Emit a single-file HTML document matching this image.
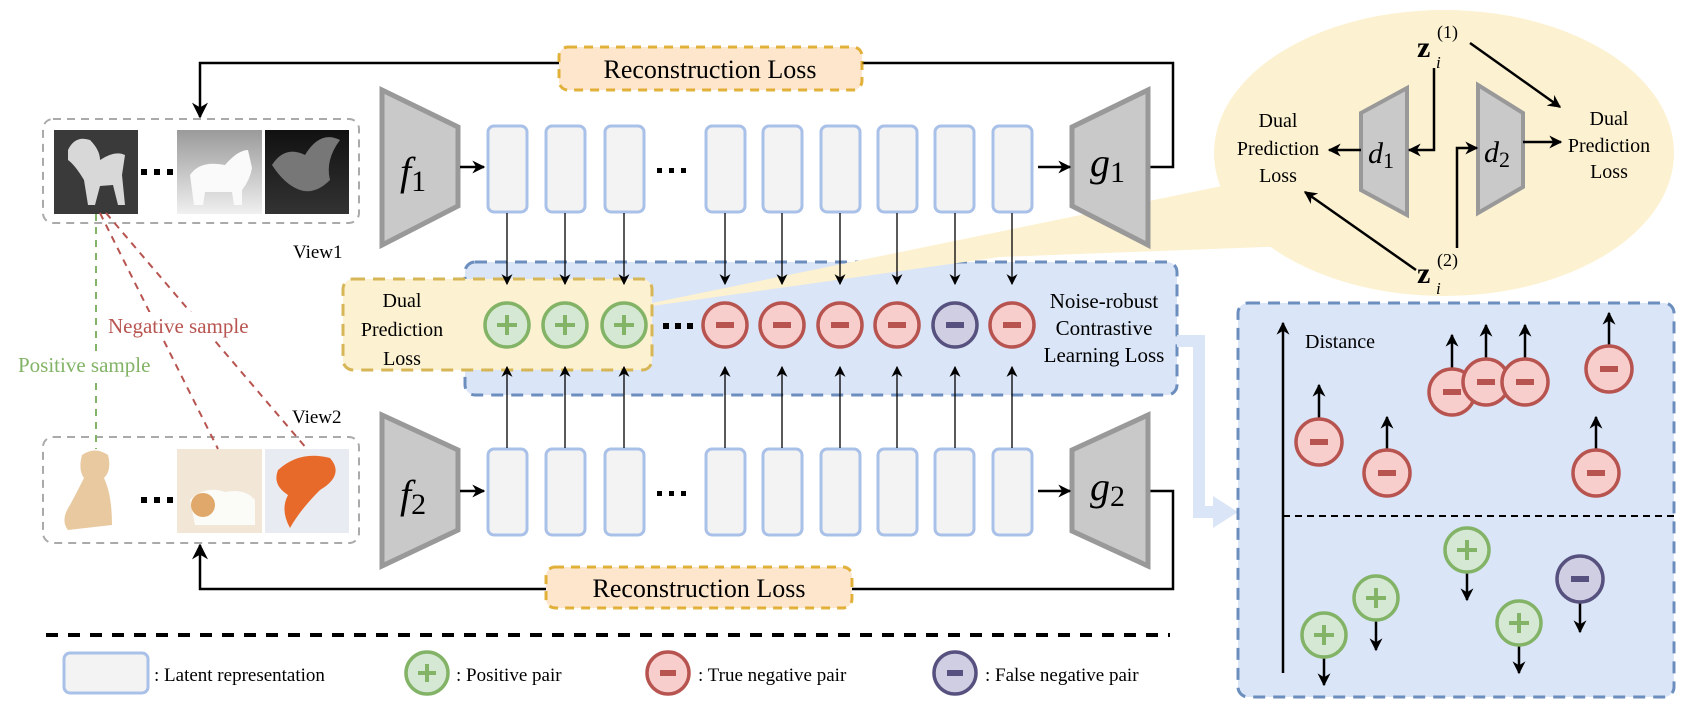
<!DOCTYPE html>
<html><head><meta charset="utf-8"><style>
html,body{margin:0;padding:0;background:#fff;}
svg{display:block;}
text{font-family:"Liberation Serif",serif;fill:#000;}
</style></head><body>
<svg width="1695" height="715" viewBox="0 0 1695 715" xmlns="http://www.w3.org/2000/svg">
<defs>
<marker id="ah" viewBox="0 0 10 10" refX="9" refY="5" markerUnits="userSpaceOnUse" markerWidth="13" markerHeight="13" orient="auto"><path d="M0,0 L10,5 L0,10 L3,5 z" fill="#000"/></marker>
<marker id="as" viewBox="0 0 10 10" refX="9" refY="5" markerUnits="userSpaceOnUse" markerWidth="11" markerHeight="11" orient="auto"><path d="M0,0 L10,5 L0,10 L3,5 z" fill="#000"/></marker>
<marker id="ab" viewBox="0 0 10 10" refX="9" refY="5" markerUnits="userSpaceOnUse" markerWidth="16" markerHeight="16" orient="auto"><path d="M0,0 L10,5 L0,10 L3,5 z" fill="#000"/></marker>
<linearGradient id="catg" x1="0" y1="0" x2="0" y2="1"><stop offset="0" stop-color="#9a9a9a"/><stop offset="1" stop-color="#f0f0f0"/></linearGradient>
<linearGradient id="fishg" x1="0" y1="0" x2="0" y2="1"><stop offset="0" stop-color="#111"/><stop offset="1" stop-color="#333"/></linearGradient>
</defs>

<ellipse cx="1444" cy="153" rx="230" ry="143" fill="#fcf1d0"/>

<rect x="465" y="262" width="712" height="133" rx="10" fill="#dae5f7" stroke="#6c8ebf" stroke-width="3" stroke-dasharray="12,8"/>
<polygon points="652,303 1222,186 1290,246 1000,257 652,306" fill="#fcf1d0"/>
<rect x="343" y="279" width="309" height="91" rx="10" fill="#fcf1d0" stroke="#d6b656" stroke-width="3" stroke-dasharray="12,8"/>
<text x="402" y="307" font-size="20" text-anchor="middle">Dual</text>
<text x="402" y="336" font-size="20" text-anchor="middle">Prediction</text>
<text x="402" y="365" font-size="20" text-anchor="middle">Loss</text>
<text x="1104" y="308" font-size="21" text-anchor="middle">Noise-robust</text>
<text x="1104" y="335" font-size="21" text-anchor="middle">Contrastive</text>
<text x="1104" y="362" font-size="21" text-anchor="middle">Learning Loss</text>

<path d="M1177,341 H1199 V512 H1215" fill="none" stroke="#dae5f7" stroke-width="12"/>
<polygon points="1213,496 1238,512 1213,528" fill="#dae5f7"/>

<path d="M1150,167 H1173 V63 H862 M559,63 H200 V117" fill="none" stroke="#000" stroke-width="2.5" marker-end="url(#ab)"/>
<rect x="559" y="47" width="303" height="43" rx="9" fill="#fde6cc" stroke="#d79b00" stroke-opacity="0.75" stroke-width="3" stroke-dasharray="9,7"/>
<text x="710" y="78" font-size="26" text-anchor="middle">Reconstruction Loss</text>

<path d="M1150,491 H1173 V589 H852 M546,589 H200 V545" fill="none" stroke="#000" stroke-width="2.5" marker-end="url(#ab)"/>
<rect x="546" y="567" width="306" height="41" rx="9" fill="#fde6cc" stroke="#d79b00" stroke-opacity="0.75" stroke-width="3" stroke-dasharray="9,7"/>
<text x="699" y="597" font-size="26" text-anchor="middle">Reconstruction Loss</text>

<rect x="43" y="119" width="316" height="104" rx="10" fill="none" stroke="#aaa" stroke-width="2" stroke-dasharray="8,6"/>
<rect x="54" y="130" width="84" height="84" fill="#3a3a3a"/>
<path d="M68,150 Q75,135 90,140 Q100,150 100,160 Q115,150 125,155 L122,175 L125,205 L118,205 L113,185 L100,186 L95,205 L88,205 L84,180 Q75,165 68,160 z" fill="#d8d8d8"/>
<rect x="177" y="130" width="85" height="84" fill="url(#catg)"/>
<path d="M190,175 Q200,160 225,165 Q238,150 248,150 L252,168 Q250,180 242,190 L242,205 L234,205 L232,192 L205,192 L203,205 L194,205 z" fill="#fafafa"/>
<rect x="265" y="130" width="84" height="84" fill="url(#fishg)"/>
<path d="M272,165 Q285,145 305,155 Q320,130 340,140 Q325,160 330,180 Q315,195 300,190 Q285,185 272,165 z" fill="#777"/>
<g fill="#000"><rect x="141" y="169" width="6" height="6"/><rect x="154" y="169" width="6" height="6"/><rect x="167" y="169" width="6" height="6"/></g>
<text x="293" y="258" font-size="19">View1</text>

<rect x="43" y="437" width="316" height="106" rx="10" fill="none" stroke="#aaa" stroke-width="2" stroke-dasharray="8,6"/>
<path d="M82,455 Q95,446 108,455 Q112,470 104,478 Q112,495 112,525 L68,530 Q60,520 70,505 Q78,490 84,478 Q78,470 82,455 z" fill="#e8c9a0"/>
<rect x="177" y="449" width="85" height="84" fill="#f2e6d6"/>
<path d="M190,500 Q205,485 225,492 Q245,488 255,500 L255,525 L195,525 z" fill="#fbfbf8"/>
<circle cx="203" cy="505" r="12" fill="#e0a86a"/>
<rect x="265" y="449" width="84" height="84" fill="#e8ecf2"/>
<path d="M278,470 Q300,450 330,458 Q345,475 320,490 Q300,510 290,528 Q280,510 288,495 Q272,485 278,470 z" fill="#e86a2a"/>
<g fill="#000"><rect x="141" y="497" width="6" height="6"/><rect x="154" y="497" width="6" height="6"/><rect x="167" y="497" width="6" height="6"/></g>
<text x="292" y="423" font-size="19">View2</text>

<line x1="96" y1="214" x2="96" y2="449" stroke="#82b366" stroke-width="2" stroke-dasharray="7,6"/>
<line x1="100" y1="213" x2="218" y2="449" stroke="#b85450" stroke-width="2" stroke-dasharray="7,6"/>
<line x1="106" y1="213" x2="307" y2="449" stroke="#b85450" stroke-width="2" stroke-dasharray="7,6"/>
<rect x="106" y="312" width="160" height="26" fill="#fff"/>
<rect x="16" y="352" width="150" height="26" fill="#fff"/>
<text x="108" y="333" font-size="21" style="fill:#b85450">Negative sample</text>
<text x="18" y="372" font-size="21" style="fill:#82b366">Positive sample</text>

<g fill="#c9c9c9" stroke="#999" stroke-width="5">
<polygon points="382,90 458,127 458,206 382,245"/>
<polygon points="382,415 458,450 458,530 382,566"/>
<polygon points="1072,127 1148,90 1148,245 1072,206"/>
<polygon points="1072,450 1148,415 1148,566 1072,531"/>
</g>
<g font-size="40" font-style="italic">
<text x="400" y="185">f<tspan font-size="30" font-style="normal" dy="6">1</tspan></text>
<text x="400" y="508">f<tspan font-size="30" font-style="normal" dy="6">2</tspan></text>
<text x="1090" y="176">g<tspan font-size="30" font-style="normal" dy="6">1</tspan></text>
<text x="1090" y="500">g<tspan font-size="30" font-style="normal" dy="6">2</tspan></text>
</g>
<g stroke="#000" stroke-width="2.5" marker-end="url(#ah)">
<line x1="460" y1="167" x2="484" y2="167"/>
<line x1="460" y1="491" x2="484" y2="491"/>
<line x1="1038" y1="167" x2="1070" y2="167"/>
<line x1="1038" y1="491" x2="1070" y2="491"/>
</g>
<g fill="#000"><rect x="657" y="168" width="5" height="5"/><rect x="669" y="168" width="5" height="5"/><rect x="681" y="168" width="5" height="5"/>
<rect x="657" y="491" width="5" height="5"/><rect x="669" y="491" width="5" height="5"/><rect x="681" y="491" width="5" height="5"/>
<rect x="663" y="323" width="6" height="6"/><rect x="675" y="323" width="6" height="6"/><rect x="687" y="323" width="6" height="6"/></g>

<g fill="#f3f3f3" stroke="#a9c1e8" stroke-width="3">
<rect x="488" y="126" width="39" height="86" rx="6"/><rect x="546" y="126" width="39" height="86" rx="6"/><rect x="605" y="126" width="39" height="86" rx="6"/>
<rect x="706" y="126" width="39" height="86" rx="6"/><rect x="763" y="126" width="39" height="86" rx="6"/><rect x="821" y="126" width="39" height="86" rx="6"/>
<rect x="878" y="126" width="39" height="86" rx="6"/><rect x="935" y="126" width="39" height="86" rx="6"/><rect x="993" y="126" width="39" height="86" rx="6"/>
<rect x="488" y="449" width="39" height="86" rx="6"/><rect x="546" y="449" width="39" height="86" rx="6"/><rect x="605" y="449" width="39" height="86" rx="6"/>
<rect x="706" y="449" width="39" height="86" rx="6"/><rect x="763" y="449" width="39" height="86" rx="6"/><rect x="821" y="449" width="39" height="86" rx="6"/>
<rect x="878" y="449" width="39" height="86" rx="6"/><rect x="935" y="449" width="39" height="86" rx="6"/><rect x="993" y="449" width="39" height="86" rx="6"/>
</g>
<g stroke="#000" stroke-width="1.3" marker-end="url(#as)">
<line x1="507" y1="213" x2="507" y2="284"/><line x1="565" y1="213" x2="565" y2="284"/><line x1="624" y1="213" x2="624" y2="284"/>
<line x1="725" y1="213" x2="725" y2="284"/><line x1="782" y1="213" x2="782" y2="284"/><line x1="840" y1="213" x2="840" y2="284"/>
<line x1="897" y1="213" x2="897" y2="284"/><line x1="955" y1="213" x2="955" y2="284"/><line x1="1012" y1="213" x2="1012" y2="284"/>
<line x1="507" y1="448" x2="507" y2="367"/><line x1="565" y1="448" x2="565" y2="367"/><line x1="624" y1="448" x2="624" y2="367"/>
<line x1="725" y1="448" x2="725" y2="367"/><line x1="782" y1="448" x2="782" y2="367"/><line x1="840" y1="448" x2="840" y2="367"/>
<line x1="897" y1="448" x2="897" y2="367"/><line x1="955" y1="448" x2="955" y2="367"/><line x1="1012" y1="448" x2="1012" y2="367"/>
</g>

<g stroke-width="3.5">
<g fill="#d5e8d4" stroke="#82b366"><circle cx="507" cy="325" r="22"/><circle cx="565" cy="325" r="22"/><circle cx="624" cy="325" r="22"/></g>
<g fill="#f8cecc" stroke="#b85450"><circle cx="725" cy="325" r="22"/><circle cx="782" cy="325" r="22"/><circle cx="840" cy="325" r="22"/><circle cx="897" cy="325" r="22"/><circle cx="1012" cy="325" r="22"/></g>
<circle cx="955" cy="325" r="22" fill="#d0cee2" stroke="#56517e"/>
</g>
<g fill="#82b366"><rect x="497" y="323" width="20" height="4"/><rect x="505" y="315" width="4" height="20"/><rect x="555" y="323" width="20" height="4"/><rect x="563" y="315" width="4" height="20"/><rect x="614" y="323" width="20" height="4"/><rect x="622" y="315" width="4" height="20"/></g>
<g fill="#b85450"><rect x="716" y="322" width="18" height="6"/><rect x="773" y="322" width="18" height="6"/><rect x="831" y="322" width="18" height="6"/><rect x="888" y="322" width="18" height="6"/><rect x="1003" y="322" width="18" height="6"/></g>
<rect x="946" y="322" width="18" height="6" fill="#56517e"/>

<g fill="#c9c9c9" stroke="#999" stroke-width="4">
<polygon points="1361,113 1407,88 1407,215 1361,190"/>
<polygon points="1478,85 1523,113 1523,187 1478,213"/>
</g>
<g font-size="30" font-style="italic">
<text x="1368" y="163">d<tspan font-size="22" font-style="normal" dy="5">1</tspan></text>
<text x="1484" y="162">d<tspan font-size="22" font-style="normal" dy="5">2</tspan></text>
</g>
<g font-size="20" text-anchor="middle">
<text x="1278" y="127">Dual</text><text x="1278" y="155">Prediction</text><text x="1278" y="182">Loss</text>
<text x="1609" y="125">Dual</text><text x="1609" y="152">Prediction</text><text x="1609" y="178">Loss</text>
</g>
<text x="1417" y="57" font-size="30" font-weight="bold">z</text>
<text x="1436" y="68" font-size="17" font-style="italic">i</text>
<text x="1437" y="38" font-size="18">(1)</text>
<text x="1417" y="283" font-size="30" font-weight="bold">z</text>
<text x="1436" y="294" font-size="17" font-style="italic">i</text>
<text x="1437" y="266" font-size="18">(2)</text>
<g fill="none" stroke="#000" stroke-width="2.5" marker-end="url(#ah)">
<line x1="1470" y1="43" x2="1560" y2="107"/>
<path d="M1434,68 V150 H1409"/>
<line x1="1361" y1="150" x2="1329" y2="150"/>
<path d="M1457,248 V148 H1477"/>
<line x1="1523" y1="142" x2="1561" y2="142"/>
<line x1="1416" y1="270" x2="1305" y2="192"/>
</g>

<rect x="1238" y="303" width="436" height="394" rx="10" fill="#dae5f7" stroke="#6c8ebf" stroke-width="3" stroke-dasharray="12,8"/>
<line x1="1283" y1="673" x2="1283" y2="323" stroke="#000" stroke-width="2.5" marker-end="url(#ah)"/>
<line x1="1283" y1="516" x2="1674" y2="516" stroke="#000" stroke-width="2" stroke-dasharray="7,5"/>
<text x="1305" y="348" font-size="20">Distance</text>
<g stroke="#000" stroke-width="2.5" marker-end="url(#ah)">
<line x1="1319" y1="419" x2="1319" y2="385"/><line x1="1387" y1="450" x2="1387" y2="417"/>
<line x1="1452" y1="369" x2="1452" y2="335"/><line x1="1486" y1="359" x2="1486" y2="325"/><line x1="1525" y1="359" x2="1525" y2="325"/>
<line x1="1609" y1="346" x2="1609" y2="313"/><line x1="1596" y1="450" x2="1596" y2="417"/>
<line x1="1467" y1="573" x2="1467" y2="600"/><line x1="1376" y1="621" x2="1376" y2="650"/><line x1="1324" y1="658" x2="1324" y2="685"/>
<line x1="1519" y1="646" x2="1519" y2="673"/><line x1="1580" y1="602" x2="1580" y2="632"/>
</g>
<g stroke-width="3.5">
<g fill="#f8cecc" stroke="#b85450">
<circle cx="1319" cy="442" r="23"/><circle cx="1387" cy="473" r="23"/><circle cx="1452" cy="392" r="23"/><circle cx="1486" cy="382" r="23"/><circle cx="1525" cy="382" r="23"/><circle cx="1609" cy="369" r="23"/><circle cx="1596" cy="473" r="23"/>
</g>
<g fill="#d5e8d4" stroke="#82b366">
<circle cx="1467" cy="550" r="22"/><circle cx="1376" cy="598" r="22"/><circle cx="1324" cy="635" r="22"/><circle cx="1519" cy="623" r="22"/>
</g>
<circle cx="1580" cy="579" r="23" fill="#d0cee2" stroke="#56517e"/>
</g>
<g fill="#b85450">
<rect x="1310" y="439" width="18" height="6"/><rect x="1378" y="470" width="18" height="6"/><rect x="1443" y="389" width="18" height="6"/><rect x="1477" y="379" width="18" height="6"/><rect x="1516" y="379" width="18" height="6"/><rect x="1600" y="366" width="18" height="6"/><rect x="1587" y="470" width="18" height="6"/>
</g>
<rect x="1571" y="576" width="18" height="6" fill="#56517e"/>
<g fill="#82b366">
<rect x="1457" y="548" width="20" height="4"/><rect x="1465" y="540" width="4" height="20"/>
<rect x="1366" y="596" width="20" height="4"/><rect x="1374" y="588" width="4" height="20"/>
<rect x="1314" y="633" width="20" height="4"/><rect x="1322" y="625" width="4" height="20"/>
<rect x="1509" y="621" width="20" height="4"/><rect x="1517" y="613" width="4" height="20"/>
</g>

<line x1="46" y1="635" x2="1170" y2="635" stroke="#000" stroke-width="4" stroke-dasharray="12,10"/>
<rect x="64" y="653" width="84" height="40" rx="6" fill="#f3f3f3" stroke="#a9c1e8" stroke-width="3"/>
<text x="154" y="681" font-size="19">: Latent representation</text>
<circle cx="427" cy="673" r="21" fill="#d5e8d4" stroke="#82b366" stroke-width="3.5"/>
<rect x="418" y="671" width="18" height="4" fill="#82b366"/><rect x="425" y="664" width="4" height="18" fill="#82b366"/>
<text x="456" y="681" font-size="19">: Positive pair</text>
<circle cx="668" cy="673" r="21" fill="#f8cecc" stroke="#b85450" stroke-width="3.5"/>
<rect x="660" y="670" width="16" height="6" fill="#b85450"/>
<text x="698" y="681" font-size="19">: True negative pair</text>
<circle cx="955" cy="673" r="21" fill="#d0cee2" stroke="#56517e" stroke-width="3.5"/>
<rect x="947" y="670" width="16" height="6" fill="#56517e"/>
<text x="985" y="681" font-size="19">: False negative pair</text>
</svg>
</body></html>
